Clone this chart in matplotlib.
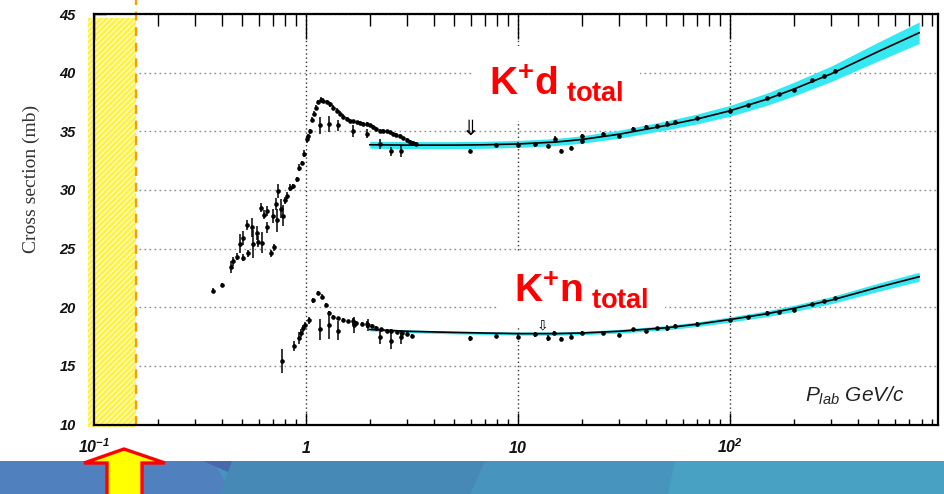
import numpy as np
import matplotlib
matplotlib.use('Agg')
import matplotlib.pyplot as plt
from matplotlib.patches import Rectangle, Polygon
from matplotlib.ticker import FixedLocator, MultipleLocator, LogLocator, NullFormatter

# ---- data ----
# K+ d total cross section (GeV/c, mb, mb)
kd_p = [0.363, 0.403, 0.441, 0.451, 0.471, 0.489, 0.503, 0.507, 0.529, 0.534,
        0.555, 0.564, 0.585, 0.596, 0.613, 0.618, 0.634, 0.653, 0.657, 0.681,
        0.701, 0.706, 0.722, 0.732, 0.740, 0.760, 0.776, 0.796, 0.816, 0.840,
        0.871, 0.904, 0.930, 0.954, 0.982, 1.008, 1.026, 1.044, 1.064, 1.090,
        1.115, 1.143, 1.173, 1.207, 1.252, 1.298, 1.346, 1.396, 1.446, 1.500,
        1.556, 1.612, 1.670, 1.734, 1.800, 1.864, 1.933, 2.000, 2.075, 2.150,
        2.230, 2.310, 2.400, 2.490, 2.580, 2.670, 2.770, 2.870, 2.980, 3.090,
        3.200, 3.300,
        1.164, 1.290, 1.420, 1.670, 1.930, 2.230, 2.520, 2.800,
        5.93, 7.9, 10.0, 12.0, 13.9, 15.0, 15.9, 17.8, 20.0, 20.0,
        25.1, 29.8, 35.0, 40.3, 45.1, 50.4, 55.3, 69.6, 100, 121,
        149, 170, 201, 243, 278, 313]
kd_sig = [21.4, 21.9, 23.4, 23.9, 24.3, 25.4, 24.2, 25.9, 27.0, 24.6,
          26.8, 25.4, 26.3, 25.6, 28.5, 25.5, 27.9, 28.2, 26.8, 24.6,
          27.8, 25.1, 28.8, 27.4, 29.9, 28.4, 27.8, 29.1, 29.5, 30.2,
          30.3, 30.9, 31.9, 32.3, 33.1, 34.3, 34.6, 35.0, 36.0, 36.5,
          37.0, 37.5, 37.7, 37.6, 37.5, 37.3, 37.0, 36.75, 36.5, 36.25,
          36.05, 35.9, 35.85, 35.75, 35.7, 35.65, 35.6, 35.5, 35.35, 35.2,
          35.05, 35.05, 35.0, 34.9, 34.75, 34.7, 34.6, 34.4, 34.25, 34.1,
          34.0, 33.95,
          35.5, 35.6, 35.5, 35.0, 34.8, 33.9, 33.3, 33.3,
          33.35, 33.85, 33.85, 33.9, 33.75, 34.35, 33.35, 33.6, 34.2, 34.6,
          34.75, 34.6, 35.2, 35.4, 35.45, 35.65, 35.75, 36.15, 36.75, 37.25,
          37.8, 38.2, 38.5, 39.35, 39.75, 40.15]
kd_err = [0.2, 0.2, 0.5, 0.4, 0.3, 0.8, 0.3, 0.6, 0.4, 0.3,
          0.8, 1.2, 0.6, 0.5, 0.4, 0.9, 0.4, 0.4, 0.5, 0.3,
          0.6, 0.3, 0.5, 1.0, 0.6, 0.8, 0.9, 0.3, 0.3, 0.3,
          0.2, 0.2, 0.3, 0.2, 0.3, 0.3, 0.2, 0.2, 0.2, 0.2,
          0.2, 0.2, 0.2, 0.2, 0.2, 0.2, 0.2, 0.2, 0.2, 0.2,
          0.15, 0.15, 0.15, 0.15, 0.15, 0.15, 0.15, 0.15, 0.15, 0.15,
          0.15, 0.15, 0.15, 0.15, 0.15, 0.15, 0.15, 0.15, 0.15, 0.15,
          0.15, 0.15,
          0.7, 0.7, 0.5, 0.5, 0.4, 0.4, 0.4, 0.5,
          0.15, 0.15, 0.2, 0.2, 0.15, 0.25, 0.15, 0.15, 0.25, 0.2,
          0.15, 0.2, 0.15, 0.15, 0.15, 0.2, 0.15, 0.1, 0.2, 0.1,
          0.15, 0.1, 0.15, 0.1, 0.15, 0.15]

# K+ n total cross section
kn_p = [0.768, 0.881, 0.930, 0.944, 0.965, 0.989, 1.036, 1.083, 1.135, 1.186,
        1.242, 1.290, 1.346, 1.420, 1.500, 1.583, 1.670, 1.730, 1.830, 1.930,
        2.040, 2.150, 2.270, 2.400, 2.530, 2.680, 2.830, 2.980, 3.150,
        1.164, 1.290, 1.420, 1.680, 1.960, 2.230, 2.530, 2.800,
        5.93, 7.9, 10.0, 12.0, 13.9, 14.8, 15.9, 17.8, 20.0, 25.1,
        29.8, 35.0, 40.3, 45.0, 50.4, 55.3, 69.6, 100, 121, 149,
        170, 201, 243, 278, 313]
kn_sig = [15.4, 16.7, 17.4, 17.8, 18.2, 18.5, 18.9, 20.6, 21.2, 20.9,
          20.2, 19.5, 19.2, 19.05, 18.95, 18.8, 18.8, 18.65, 18.6, 18.55,
          18.4, 18.25, 18.1, 18.0, 17.95, 17.85, 17.8, 17.7, 17.55,
          18.1, 18.5, 18.0, 18.5, 18.5, 17.45, 17.1, 17.45,
          17.35, 17.55, 17.5, 17.7, 17.35, 17.8, 17.3, 17.5, 17.8, 17.8,
          17.65, 18.1, 18.0, 18.2, 18.25, 18.4, 18.6, 18.95, 19.15, 19.5,
          19.6, 19.75, 20.3, 20.5, 20.75]
kn_err = [1.0, 0.4, 0.5, 0.3, 0.3, 0.2, 0.3, 0.2, 0.2, 0.2,
          0.2, 0.2, 0.15, 0.15, 0.15, 0.15, 0.3, 0.15, 0.15, 0.3,
          0.15, 0.15, 0.15, 0.15, 0.15, 0.15, 0.15, 0.15, 0.15,
          0.9, 1.2, 0.8, 0.7, 0.5, 0.6, 0.7, 0.6,
          0.2, 0.2, 0.25, 0.2, 0.25, 0.2, 0.2, 0.25, 0.2, 0.1,
          0.15, 0.15, 0.1, 0.15, 0.25, 0.15, 0.1, 0.15, 0.1, 0.15,
          0.1, 0.15, 0.1, 0.1, 0.15]

# fits and their uncertainty bands
fit_p = [2, 3, 5, 7, 10, 15, 20, 30, 50, 70, 100, 150, 200, 300, 500, 780]
kd_fit = [33.85, 33.82, 33.82, 33.85, 33.92, 34.08, 34.3, 34.75, 35.5, 36.05,
          36.75, 37.75, 38.6, 39.9, 41.8, 43.4]
kd_band = [0.3, 0.3, 0.3, 0.3, 0.3, 0.3, 0.32, 0.34, 0.38, 0.42,
           0.46, 0.52, 0.58, 0.66, 0.8, 0.92]
kn_fit = [18.1, 17.95, 17.85, 17.8, 17.75, 17.75, 17.8, 17.95, 18.25, 18.55,
          18.95, 19.45, 19.9, 20.6, 21.7, 22.6]
kn_band = [0.12, 0.12, 0.12, 0.12, 0.13, 0.14, 0.15, 0.16, 0.18, 0.2,
           0.22, 0.25, 0.27, 0.3, 0.35, 0.38]

# markers for the arrows / cut
kd_arrow_p, kd_arrow_sig = 5.93, 34.35
kn_arrow_p, kn_arrow_sig = 13.1, 17.85
p_cut = 0.158

y_ticks = [10, 15, 20, 25, 30, 35, 40, 45]
x_ticks = [0.1, 1, 10, 100]
x_labels = [r'$\mathsf{10^{-1}}$', r'$\mathsf{1}$', r'$\mathsf{10}$', r'$\mathsf{10^{2}}$']

# ---- fonts ----
plt.rcParams['mathtext.fontset'] = 'custom'
plt.rcParams['mathtext.rm'] = 'Liberation Sans'
plt.rcParams['mathtext.it'] = 'Liberation Sans:italic'
plt.rcParams['mathtext.bf'] = 'Liberation Sans:bold'
plt.rcParams['mathtext.sf'] = 'Liberation Sans:bold:italic'
plt.rcParams['hatch.linewidth'] = 1.0

W, H = 945, 494
fig = plt.figure(figsize=(W / 100, H / 100), dpi=100)
ax = fig.add_axes([94 / W, 1 - 424.5 / H, 844 / W, 410.5 / H])

def fpx(x, y):
    return (x / W, 1 - y / H)

# banner at the bottom
fig.add_artist(Rectangle(fpx(0, 494), 1, 33 / H, transform=fig.transFigure,
                         facecolor='#4794bf', edgecolor='none'))
fig.add_artist(Polygon([fpx(0, 461), fpx(213, 461), fpx(232, 494), fpx(0, 494)],
                       transform=fig.transFigure, facecolor='#5080bd', edgecolor='none'))
fig.add_artist(Polygon([fpx(203, 461), fpx(236, 461), fpx(228, 472)],
                       transform=fig.transFigure, facecolor='#4a68ad', edgecolor='none'))
fig.add_artist(Polygon([fpx(232, 461), fpx(485, 461), fpx(470, 494), fpx(220, 494)],
                       transform=fig.transFigure, facecolor='#4689b6', edgecolor='none'))
fig.add_artist(Polygon([fpx(675, 461), fpx(945, 461), fpx(945, 494), fpx(668, 494)],
                       transform=fig.transFigure, facecolor='#48a0c2', edgecolor='none'))
# red/yellow arrow pointing up
fig.add_artist(Polygon([fpx(124, 449), fpx(165, 463), fpx(142, 463), fpx(142, 497),
                        fpx(107, 497), fpx(107, 463), fpx(84, 463)],
                       transform=fig.transFigure, facecolor='#ffff00',
                       edgecolor='#ff0000', lw=2.4, joinstyle='miter'))

# ---- axes ----
ax.set_xscale('log')
ax.set_xlim(0.1, 957)
ax.set_ylim(10, 45)

ax.grid(True, which='major', axis='y', color='#8a8a8a', ls=(0, (1.2, 2.4)), lw=1.0)
ax.grid(True, which='major', axis='x', color='#333333', ls=(0, (1, 2)), lw=1.0)
ax.set_axisbelow(True)

# hatched yellow zone and cut line
ax.add_patch(Rectangle((0.0937, 9.8), p_cut - 0.0937, 44.65 - 9.8, facecolor='#fff23a',
                       edgecolor='#fffbd0', hatch='//////', lw=0, clip_on=False, zorder=0.8))
ax.plot([p_cut, p_cut], [10, 46.2], color='#ff9a00', lw=1.6, ls=(0, (4, 3)),
        clip_on=False, zorder=1)

# fit bands and curves
kd_lo = np.array(kd_fit) - np.array(kd_band)
kd_hi = np.array(kd_fit) + np.array(kd_band)
kn_lo = np.array(kn_fit) - np.array(kn_band)
kn_hi = np.array(kn_fit) + np.array(kn_band)
ax.fill_between(fit_p, kd_lo, kd_hi, color='#35e8f2', lw=0, zorder=2)
ax.fill_between(fit_p, kn_lo, kn_hi, color='#35e8f2', lw=0, zorder=2)
ax.plot(fit_p, kd_fit, color='black', lw=1.2, zorder=3)
ax.plot(fit_p, kn_fit, color='black', lw=1.2, zorder=3)

# data points
ax.errorbar(kd_p, kd_sig, yerr=kd_err, fmt='o', ms=2.3, color='black',
            elinewidth=1.1, capsize=0, zorder=4)
ax.errorbar(kn_p, kn_sig, yerr=kn_err, fmt='o', ms=2.3, color='black',
            elinewidth=1.1, capsize=0, zorder=4)

# arrows
ax.text(kd_arrow_p, kd_arrow_sig, '\u21d3', fontsize=15, family='DejaVu Sans',
        ha='center', va='bottom', zorder=5)
ax.text(kn_arrow_p, kn_arrow_sig, '\u21e9', fontsize=10, family='DejaVu Sans',
        ha='center', va='bottom', zorder=5)

# labels
white_box = dict(facecolor='white', edgecolor='none', pad=12)
ax.text(7.3, 38.03, r'$\mathbf{K^{+}d_{\ total}}$', color='#ff0000', fontsize=28,
        ha='left', va='baseline', bbox=white_box, zorder=1.5)
ax.text(9.53, 20.37, r'$\mathbf{K^{+}n_{\ total}}$', color='#ff0000', fontsize=28,
        ha='left', va='baseline', bbox=white_box, zorder=1.5)
ax.text(0.8424, 0.0555, r'$P_{lab}$ GeV/c', transform=ax.transAxes, fontsize=15,
        family='Liberation Sans', style='italic', ha='left', va='baseline', color='#222222')

ax.text(-0.074, 0.598, 'Cross section (mb)', transform=ax.transAxes, rotation=90,
        family='Liberation Serif', fontsize=14, ha='center', va='center', color='#333333')

# ticks
ax.xaxis.set_major_locator(FixedLocator(x_ticks))
ax.xaxis.set_minor_locator(LogLocator(base=10, subs=np.arange(2, 10), numticks=20))
ax.xaxis.set_major_formatter(NullFormatter())
ax.xaxis.set_minor_formatter(NullFormatter())
ax.tick_params(axis='x', which='major', direction='in', length=8.6, width=1.0, top=False)
ax.tick_params(axis='x', which='minor', direction='in', length=4.6, width=1.0, top=False)
for xv, xl in zip(x_ticks, x_labels):
    ax.text(xv, -0.0687, xl, transform=ax.get_xaxis_transform(), fontsize=11.5,
            ha='center', va='baseline', color='#111111')

ax.set_yticks(y_ticks)
ax.set_yticklabels([str(v) for v in y_ticks], family='Liberation Sans',
                   weight='bold', style='italic', fontsize=10.5, color='#111111')
ax.yaxis.set_minor_locator(MultipleLocator(1))
ax.tick_params(axis='y', which='major', direction='in', length=8.6, width=1.0,
               pad=13, right=False)
ax.tick_params(axis='y', which='minor', direction='in', length=4.3, width=1.0, right=False)

# top ticks are longer than the bottom ones
top = ax.twiny()
top.set_xscale('log')
top.set_xlim(ax.get_xlim())
top.xaxis.set_major_locator(FixedLocator(x_ticks))
top.xaxis.set_minor_locator(LogLocator(base=10, subs=np.arange(2, 10), numticks=20))
top.xaxis.set_major_formatter(NullFormatter())
top.xaxis.set_minor_formatter(NullFormatter())
top.tick_params(axis='x', which='major', direction='in', length=18, width=1.0,
                top=True, bottom=False, labeltop=False)
top.tick_params(axis='x', which='minor', direction='in', length=8.6, width=1.0,
                top=True, bottom=False, labeltop=False)
top.yaxis.set_visible(False)
top.patch.set_visible(False)
for s in top.spines.values():
    s.set_visible(False)

for s in ax.spines.values():
    s.set_linewidth(1.6)
    s.set_zorder(6)

fig.savefig('out.png', dpi=100)
